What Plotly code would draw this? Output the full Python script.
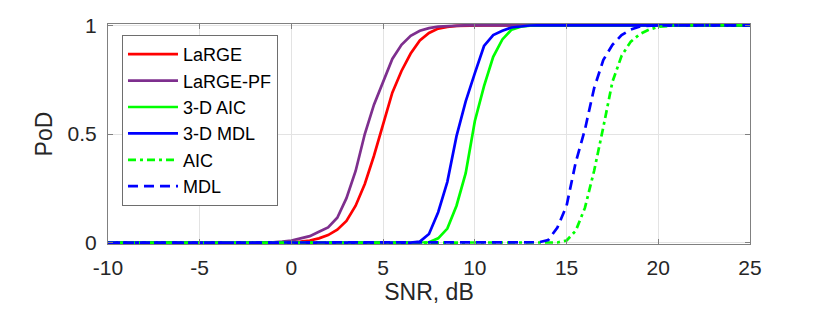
import plotly.graph_objects as go

# SNR grid (dB), -10 .. 25 in 0.5 dB steps
snr = [-10 + 0.5 * i for i in range(71)]

# Probability of detection (index 0 -> -10 dB)
large = ([0.0] * 20 +                       # -10 .. -0.5
         [0.002, 0.005, 0.01, 0.02, 0.035, 0.06, 0.10, 0.17, 0.27, 0.40,   # 0 .. 4.5
          0.55, 0.69, 0.79, 0.87, 0.93, 0.965, 0.985, 0.993, 0.997, 0.999] +  # 5 .. 9.5
         [1.0] * 31)                         # 10 .. 25
large_pf = ([0.0] * 18 +                     # -10 .. -1.5
            [0.002, 0.005, 0.01, 0.02, 0.03, 0.05, 0.07, 0.115, 0.205, 0.33,  # -1 .. 3.5
             0.50, 0.635, 0.74, 0.845, 0.91, 0.952, 0.975, 0.987, 0.994, 0.997, 0.999] +  # 4 .. 9
            [1.0] * 32)                      # 9.5 .. 25
aic_3d = ([0.0] * 35 +                       # -10 .. 7
          [0.002, 0.02, 0.065, 0.17, 0.32, 0.56, 0.72, 0.855, 0.935, 0.98, 0.994, 0.998] +  # 7.5 .. 13
          [1.0] * 24)                        # 13.5 .. 25
mdl_3d = ([0.0] * 34 +                       # -10 .. 6.5
          [0.005, 0.04, 0.14, 0.28, 0.49, 0.65, 0.78, 0.905, 0.955, 0.975, 0.99, 0.996, 0.999] +  # 7 .. 13
          [1.0] * 24)                        # 13.5 .. 25
aic = ([0.0] * 49 +                          # -10 .. 14
       [0.001, 0.01, 0.055, 0.16, 0.33, 0.53, 0.74, 0.86, 0.925, 0.96, 0.98, 0.993, 0.998] +  # 14.5 .. 20.5
       [1.0] * 9)                            # 21 .. 25
mdl = ([0.0] * 47 +                          # -10 .. 13
       [0.002, 0.012, 0.07, 0.17, 0.37, 0.52, 0.71, 0.84, 0.91, 0.955, 0.98, 0.995, 0.999] +  # 13.5 .. 19.5
       [1.0] * 11)                           # 20 .. 25

series_names = ["LaRGE", "LaRGE-PF", "3-D AIC", "3-D MDL", "AIC", "MDL"]
series_vals = [large, large_pf, aic_3d, mdl_3d, aic, mdl]
colors = ["#ff0000", "#7e2f8e", "#00ff00", "#0000ff", "#00ff00", "#0000ff"]
dashes = ["solid", "solid", "solid", "solid", "8px,4px,3px,4px", "10px,6px"]

x_ticks = [-10, -5, 0, 5, 10, 15, 20, 25]
y_ticks = [0, 0.5, 1]
y_ticklabels = ["0", "0.5", "1"]

fig = go.Figure()
for name, vals, c, d in zip(series_names, series_vals, colors, dashes):
    fig.add_trace(go.Scatter(x=snr, y=vals, mode="lines", name=name,
                             legendgroup=name,
                             line=dict(color=c, width=2.7, dash=d)))

font = "Liberation Sans, Arial, Helvetica, sans-serif"
axis_common = dict(showline=True, linecolor="#808080", linewidth=1, mirror="ticks",
                   ticks="inside", ticklen=5, tickcolor="#808080",
                   showgrid=True, gridcolor="#e3e3e3", gridwidth=1, zeroline=False,
                   tickfont=dict(family=font, size=21, color="#262626"))

fig.update_layout(
    width=830, height=316,
    margin=dict(l=108, r=80, t=24, b=72),
    paper_bgcolor="white", plot_bgcolor="white",
    xaxis=dict(range=[-10, 25], tickvals=x_ticks, ticktext=[str(t) for t in x_ticks],
               ticklabelstandoff=5,
               title=dict(text="SNR, dB", font=dict(family=font, size=23, color="#262626"), standoff=2),
               **axis_common),
    yaxis=dict(range=[-0.006, 1.006], tickvals=y_ticks, ticktext=y_ticklabels,
               ticklabelstandoff=6,
               title=dict(text="PoD", font=dict(family=font, size=23, color="#262626"), standoff=8),
               **axis_common),
    legend=dict(x=0.0218, y=0.95, xanchor="left", yanchor="top",
                bgcolor="white", bordercolor="#6e6e6e", borderwidth=1,
                font=dict(family=font, size=18, color="#000000"),
                itemwidth=50, tracegroupgap=0),
    showlegend=True,
)

fig.write_html("out.html", config={"displayModeBar": False},
               post_script="document.body.style.margin='0px';")
